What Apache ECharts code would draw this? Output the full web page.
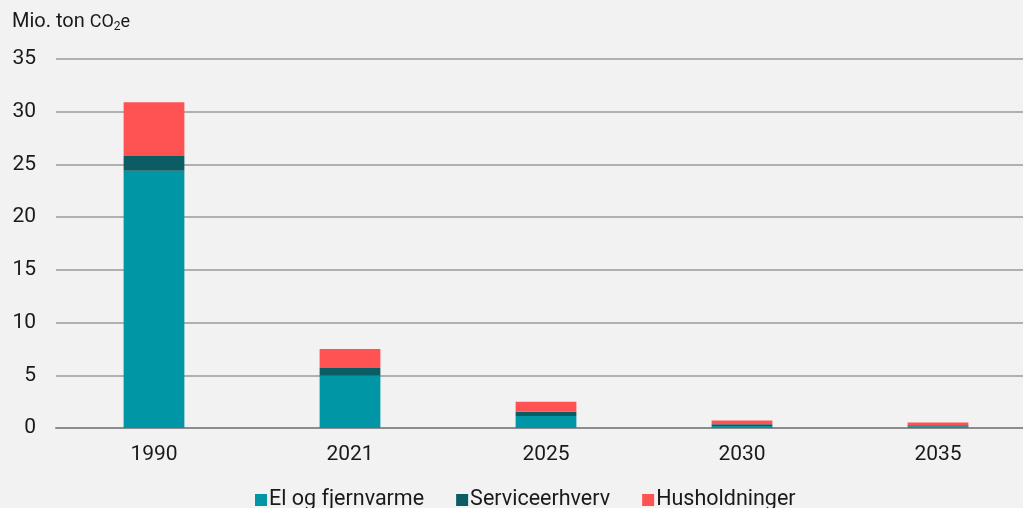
<!DOCTYPE html>
<html><head><meta charset="utf-8">
<script src="https://cdn.jsdelivr.net/npm/echarts@6/dist/echarts.min.js"></script>
<style>html,body{margin:0;padding:0;background:#f2f2f2;overflow:hidden;}#c{width:1036px;height:508px;}</style>
</head><body><div id="c"></div>
<script>
const categories = ['1990','2021','2025','2030','2035'];
const elFjernvarme = [24.4, 4.95, 1.15, 0.2, 0.15];
const serviceerhverv = [1.4, 0.75, 0.4, 0.15, 0.1];
const husholdninger = [5.1, 1.8, 0.95, 0.35, 0.28];
const yTicks = [0,5,10,15,20,25,30,35];

const chart = echarts.init(document.getElementById('c'));
const font = 'Roboto, "Noto Sans", sans-serif';
chart.setOption({
  backgroundColor: '#f2f2f2',
  textStyle: {fontFamily: font},
  graphic: [{
    type: 'text', left: 12, top: 12,
    style: {
      text: '{a|Mio. ton }{b|CO}{s|2}{b|e}',
      rich: {
        a: {fontFamily: font, fontSize: 20, fill: '#1a1a1a'},
        b: {fontFamily: font, fontSize: 18, fill: '#1a1a1a'},
        s: {fontFamily: font, fontSize: 12, fill: '#1a1a1a', padding: [10,0,0,0]}
      }
    }
  }],
  legend: {
    bottom: -8, left: 250, itemWidth: 12, itemHeight: 12, itemGap: 32,
    icon: 'rect',
    textStyle: {fontSize: 21.5, color: '#1a1a1a', fontFamily: font, padding: [0,0,0,-3]},
    data: ['El og fjernvarme','Serviceerhverv','Husholdninger']
  },
  grid: {left: 56, right: 0, top: 59, bottom: 80, containLabel: false},
  xAxis: {
    type: 'category', data: categories,
    axisLine: {lineStyle: {color: '#8c8c8c', width: 2}},
    axisTick: {show: false},
    axisLabel: {fontSize: 21, color: '#1a1a1a', margin: 16, fontFamily: font}
  },
  yAxis: {
    type: 'value', min: 0, max: 35, interval: 5,
    axisLine: {show: false}, axisTick: {show: false},
    axisLabel: {fontSize: 21, color: '#1a1a1a', margin: 20, fontFamily: font,
      formatter: v => yTicks.includes(v) ? String(v) : ''},
    splitLine: {lineStyle: {color: '#9a9a9a', width: 1.5}}
  },
  series: [
    {name: 'El og fjernvarme', type: 'bar', stack: 's', data: elFjernvarme, barWidth: '31%', itemStyle: {color: '#0096a5'}},
    {name: 'Serviceerhverv', type: 'bar', stack: 's', data: serviceerhverv, itemStyle: {color: '#0b5c63'}},
    {name: 'Husholdninger', type: 'bar', stack: 's', data: husholdninger, itemStyle: {color: '#ff5253'}}
  ]
});
</script></body></html>
